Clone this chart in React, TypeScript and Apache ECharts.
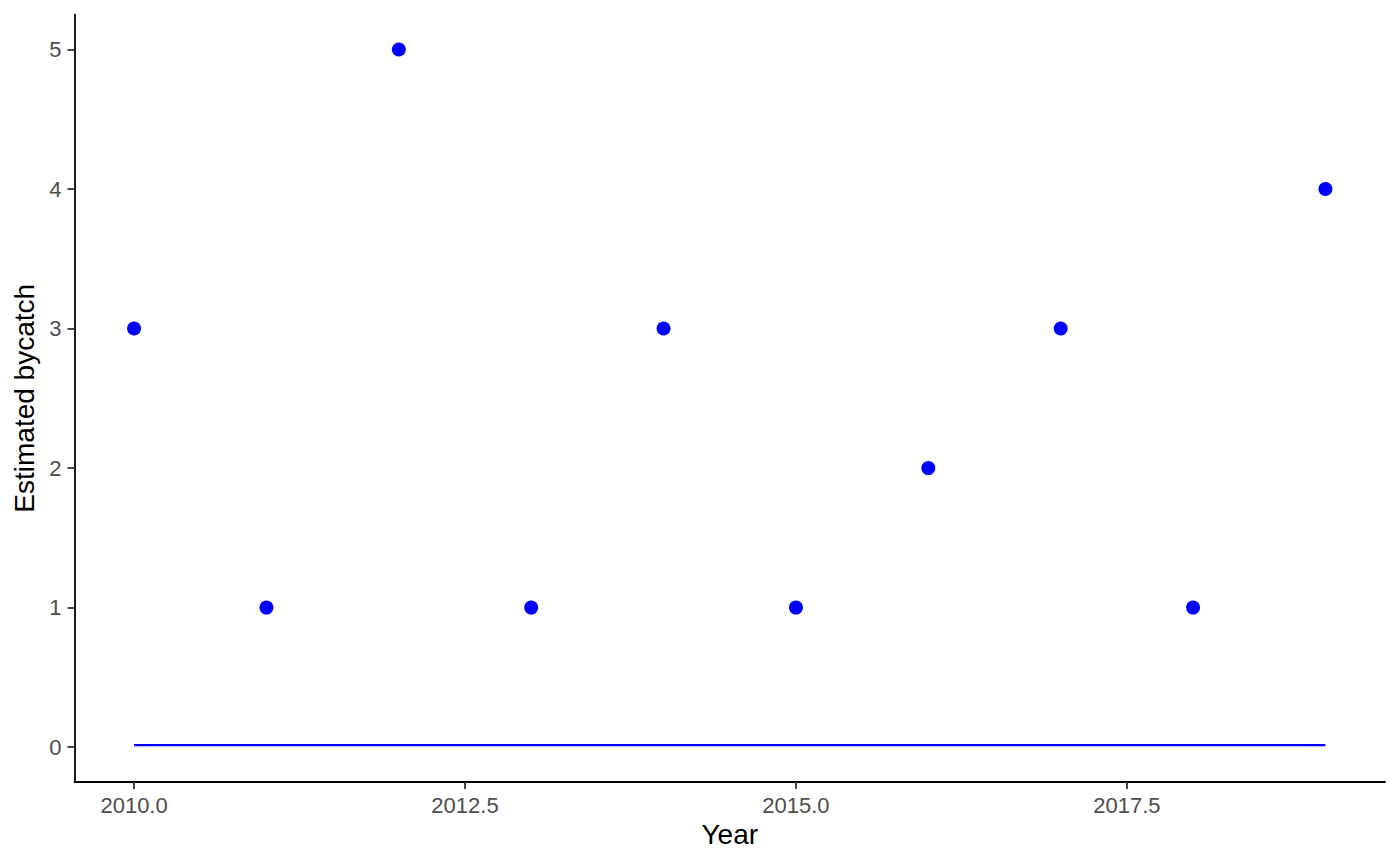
import * as echarts from 'echarts';
import React, { useEffect, useRef } from 'react';

const years = [2010, 2011, 2012, 2013, 2014, 2015, 2016, 2017, 2018, 2019];
const observed = [3, 1, 5, 1, 3, 1, 2, 3, 1, 4];
const estimated = [0.014, 0.014, 0.014, 0.014, 0.014, 0.014, 0.014, 0.014, 0.014, 0.014];
const xTicks = [2010, 2012.5, 2015, 2017.5];
const yTicks = [0, 1, 2, 3, 4, 5];

const FONT = '"Liberation Sans", Arial, sans-serif';

const App: React.FC = () => {
  const ref = useRef<HTMLDivElement>(null);

  useEffect(() => {
    const chart = echarts.init(ref.current, null, { renderer: 'svg' });
    chart.setOption({
      animation: false,
      grid: { left: 74.5, right: 15, top: 14.6, bottom: 83 },
      xAxis: {
        type: 'value',
        min: 2009.55,
        max: 2019.45,
        name: 'Year',
        nameLocation: 'middle',
        nameGap: 38,
        nameTextStyle: { color: '#000', fontSize: 28, fontFamily: FONT },
        splitLine: { show: false },
        axisLine: { onZero: false, lineStyle: { color: '#000', width: 1.8 } },
        axisTick: { customValues: xTicks, length: 7, lineStyle: { color: '#333', width: 1.8 } },
        axisLabel: {
          customValues: xTicks,
          formatter: (v: number) => v.toFixed(1),
          color: '#4D4D4D',
          fontSize: 22,
          fontFamily: FONT,
          margin: 12,
        },
      },
      yAxis: {
        type: 'value',
        min: -0.25,
        max: 5.25,
        name: 'Estimated bycatch',
        nameLocation: 'middle',
        nameGap: 34,
        nameTextStyle: { color: '#000', fontSize: 28, fontFamily: FONT },
        splitLine: { show: false },
        axisLine: { show: true, onZero: false, lineStyle: { color: '#000', width: 1.8 } },
        axisTick: { show: true, customValues: yTicks, length: 7, lineStyle: { color: '#333', width: 1.8 } },
        axisLabel: {
          customValues: yTicks,
          color: '#4D4D4D',
          fontSize: 22,
          fontFamily: FONT,
          margin: 13,
        },
      },
      series: [
        {
          type: 'line',
          data: years.map((y, i) => [y, estimated[i]]),
          showSymbol: false,
          lineStyle: { color: '#0000FF', width: 2.2 },
          silent: true,
        },
        {
          type: 'scatter',
          data: years.map((y, i) => [y, observed[i]]),
          symbolSize: 14,
          itemStyle: { color: '#0000FF', opacity: 1 },
        },
      ],
    });
    return () => {
      chart.dispose();
    };
  }, []);

  return <div ref={ref} style={{ width: 1400, height: 865, margin: -8 }}></div>;
};

export default App;
